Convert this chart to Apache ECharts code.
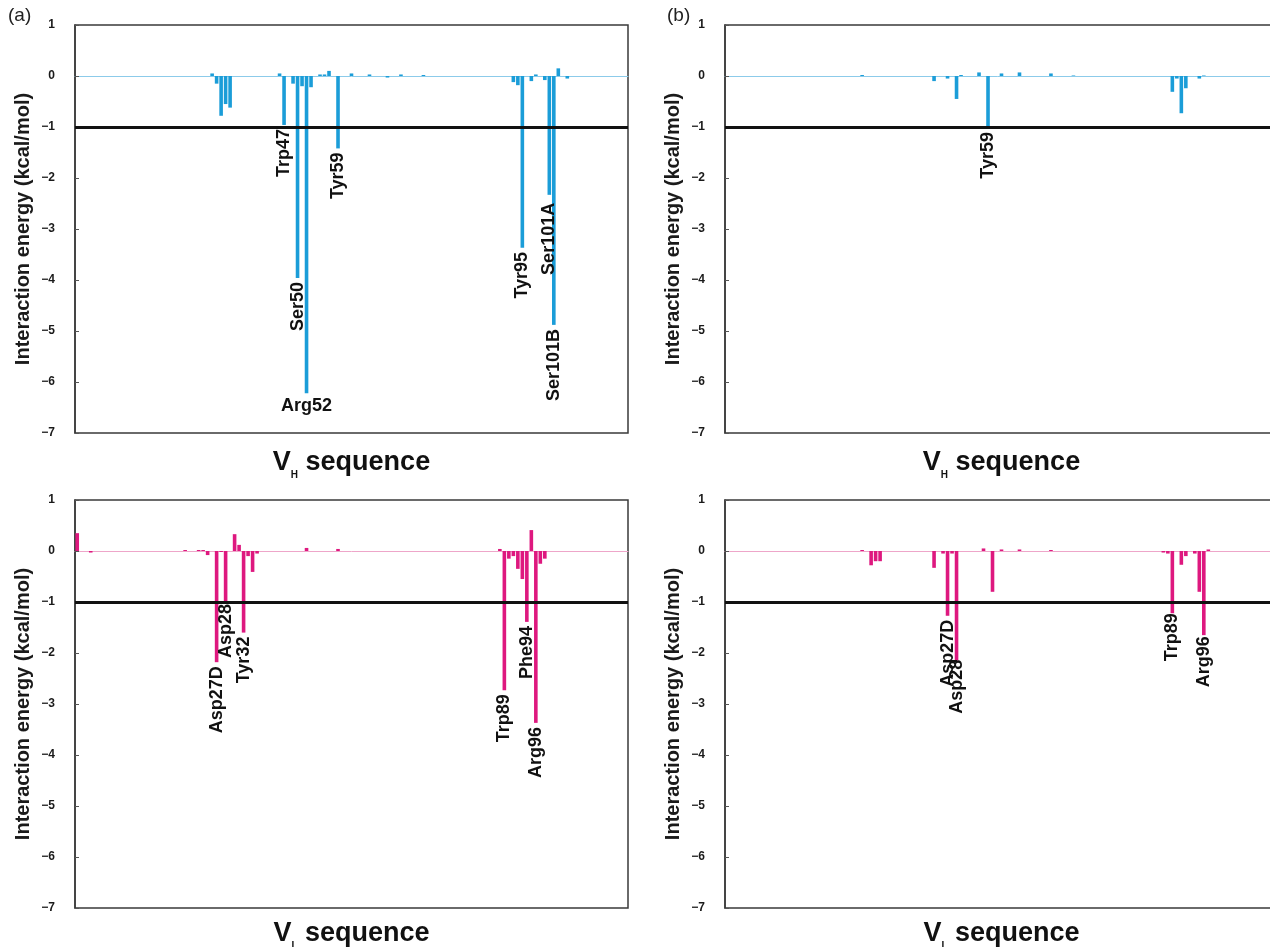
<!DOCTYPE html>
<html>
<head>
<meta charset="utf-8">
<title>Interaction energy per residue</title>
<script src="https://cdn.jsdelivr.net/npm/echarts@6/dist/echarts.min.js"></script>
<style>
    html, body { margin: 0; padding: 0; background: #fff; }
    #main { width: 1270px; height: 947px; }
</style>
</head>
<body>
<div id="main"></div>
<script>
    // residue slots along each sequence axis (no tick labels are drawn)
    var nRes = 123;

    // (a) VH
    var vhA_idx = [30, 31, 32, 33, 34, 45, 46, 48, 49, 50, 51, 52, 54, 55, 56, 58, 61, 65, 69, 72, 77, 97, 98, 99, 101, 102, 104, 105, 106, 107, 109];
    var vhA_val = [0.05, -0.15, -0.78, -0.55, -0.62, 0.05, -0.96, -0.15, -3.96, -0.2, -6.22, -0.22, 0.03, 0.03, 0.1, -1.42, 0.05, 0.03, -0.03, 0.03, 0.02, -0.12, -0.18, -3.37, -0.1, 0.03, -0.08, -2.33, -4.88, 0.15, -0.05];
    var vhA_labIdx = [46, 49, 51, 58, 99, 105, 106];
    var vhA_labText = ['Trp47', 'Ser50', 'Arg52', 'Tyr59', 'Tyr95', 'Ser101A', 'Ser101B'];

    // (b) VH
    var vhB_idx = [30, 46, 49, 51, 52, 56, 58, 61, 65, 72, 77, 99, 100, 101, 102, 105, 106];
    var vhB_val = [0.02, -0.1, -0.05, -0.45, 0.02, 0.07, -1.02, 0.05, 0.07, 0.05, 0.01, -0.31, -0.05, -0.73, -0.24, -0.05, 0.01];
    var vhB_labIdx = [58];
    var vhB_labText = ['Tyr59'];

    // (a) VL
    var vlA_idx = [0, 3, 24, 27, 28, 29, 31, 32, 33, 35, 36, 37, 38, 39, 40, 51, 58, 94, 95, 96, 97, 98, 99, 100, 101, 102, 103, 104];
    var vlA_val = [0.35, -0.03, 0.02, 0.02, 0.02, -0.08, -2.18, -0.02, -1.02, 0.33, 0.12, -1.6, -0.1, -0.41, -0.05, 0.06, 0.04, 0.04, -2.73, -0.15, -0.1, -0.35, -0.55, -1.39, 0.41, -3.37, -0.25, -0.15];
    var vlA_labIdx = [31, 33, 37, 95, 100, 102];
    var vlA_labText = ['Asp27D', 'Asp28', 'Tyr32', 'Trp89', 'Phe94', 'Arg96'];

    // (b) VL
    var vlB_idx = [30, 32, 33, 34, 46, 48, 49, 50, 51, 57, 59, 61, 65, 72, 97, 98, 99, 101, 102, 104, 105, 106, 107];
    var vlB_val = [0.02, -0.28, -0.2, -0.2, -0.33, -0.05, -1.27, -0.05, -2.15, 0.05, -0.8, 0.03, 0.03, 0.02, -0.03, -0.05, -1.22, -0.27, -0.1, -0.05, -0.8, -1.65, 0.03];
    var vlB_labIdx = [49, 51, 99, 106];
    var vlB_labText = ['Asp27D', 'Asp28', 'Trp89', 'Arg96'];

    var cutoff = -1;

    var FONT = "'Liberation Sans', Arial, Helvetica, sans-serif";
    var BLUE = '#1b9dd8', BLUE_LT = '#8ccbea';
    var PINK = '#de187f', PINK_LT = '#eea6c9';

    // small sideways shifts so neighbouring residue labels don't sit on each other
    var nudge = {'vlA:Asp28': 3, 'vlB:Asp28': 5, 'vlB:Trp89': 4, 'vlB:Arg96': 3, 'vhA:Ser101A': -4};

    var panels = [
        {key: 'vhA', left: 75, top: 25, idx: vhA_idx, val: vhA_val, labIdx: vhA_labIdx, labText: vhA_labText, color: BLUE, base: BLUE_LT, chain: 'H', titleGap: 12},
        {key: 'vhB', left: 725, top: 25, idx: vhB_idx, val: vhB_val, labIdx: vhB_labIdx, labText: vhB_labText, color: BLUE, base: BLUE_LT, chain: 'H', titleGap: 12},
        {key: 'vlA', left: 75, top: 500, idx: vlA_idx, val: vlA_val, labIdx: vlA_labIdx, labText: vlA_labText, color: PINK, base: PINK_LT, chain: 'L', titleGap: 8},
        {key: 'vlB', left: 725, top: 500, idx: vlB_idx, val: vlB_val, labIdx: vlB_labIdx, labText: vlB_labText, color: PINK, base: PINK_LT, chain: 'L', titleGap: 8}
    ];
    var gridW = 553, gridH = 408;

    var cats = [];
    for (var c = 0; c < nRes; c++) cats.push(String(c + 1));

    function barData(idx, val) {
        var d = [];
        for (var i = 0; i < nRes; i++) d.push(0);
        idx.forEach(function (k, j) { d[k] = val[j]; });
        return d;
    }

    function labelData(p) {
        return p.labIdx.map(function (k, j) {
            var v = p.val[p.idx.indexOf(k)];
            var name = p.labText[j];
            var flat = (name === 'Arg52');
            var dx = nudge[p.key + ':' + name] || 0;
            return {
                value: [k, v],
                name: name,
                label: flat ? {rotate: 0, align: 'center', verticalAlign: 'top', distance: 4, offset: [dx, 0]}
                            : {rotate: 90, align: 'right', verticalAlign: 'middle', distance: 4, offset: [dx, 0]}
            };
        });
    }

    var grids = [], xAxes = [], yAxes = [], series = [], graphics = [];

    panels.forEach(function (p, n) {
        grids.push({
            left: p.left, top: p.top, width: gridW, height: gridH,
            outerBoundsMode: 'none',
            show: true, borderColor: '#3a3a3a', borderWidth: 1.5, backgroundColor: 'transparent'
        });
        xAxes.push({
            type: 'category', gridIndex: n, data: cats,
            axisLine: {onZero: true, lineStyle: {color: p.base, width: 1}},
            axisTick: {show: false}, axisLabel: {show: false}, splitLine: {show: false}
        });
        yAxes.push({
            type: 'value', gridIndex: n, min: -7, max: 1, interval: 1,
            name: 'Interaction energy (kcal/mol)', nameLocation: 'middle', nameGap: 42,
            nameTextStyle: {fontFamily: FONT, fontWeight: 'bold', fontSize: 20, color: '#1a1a1a'},
            axisLine: {show: true, lineStyle: {color: '#3a3a3a', width: 1.5}},
            axisTick: {show: true, inside: true, length: 4, lineStyle: {color: '#555'}},
            axisLabel: {
                margin: 20, fontFamily: FONT, fontWeight: 'bold', fontSize: 12, color: '#1a1a1a',
                formatter: function (v) { return String(v).replace('-', '\u2212'); }
            },
            splitLine: {show: false}
        });
        series.push({
            type: 'bar', xAxisIndex: n, yAxisIndex: n,
            data: barData(p.idx, p.val),
            barWidth: 3.6,
            itemStyle: {color: p.color},
            markLine: {
                silent: true, symbol: ['none', 'none'],
                label: {show: false},
                lineStyle: {color: '#111', width: 3, type: 'solid'},
                data: [{yAxis: cutoff}]
            }
        });
        series.push({
            type: 'scatter', xAxisIndex: n, yAxisIndex: n,
            symbolSize: 0, silent: true,
            itemStyle: {opacity: 1},
            data: labelData(p),
            label: {
                show: true, position: 'bottom',
                formatter: '{b}',
                fontFamily: FONT, fontWeight: 'bold', fontSize: 18, color: '#111', opacity: 1
            },
            z: 5
        });
        graphics.push({
            type: 'text',
            x: p.left + gridW / 2, y: p.top + gridH + p.titleGap,
            style: {
                text: '{v|V}{s|' + p.chain + '}{t| sequence}',
                align: 'center',
                rich: {
                    v: {fontFamily: FONT, fontWeight: 'bold', fontSize: 27, lineHeight: 35, fill: '#111'},
                    s: {fontFamily: FONT, fontWeight: 'bold', fontSize: 10, lineHeight: 10, verticalAlign: 'bottom', fill: '#111'},
                    t: {fontFamily: FONT, fontWeight: 'bold', fontSize: 27, lineHeight: 35, fill: '#111'}
                }
            }
        });
    });

    graphics.push({type: 'text', x: 8, y: 6, style: {text: '(a)', fontFamily: FONT, fontSize: 19, fill: '#222'}});
    graphics.push({type: 'text', x: 667, y: 6, style: {text: '(b)', fontFamily: FONT, fontSize: 19, fill: '#222'}});

    var myChart = echarts.init(document.getElementById('main'));
    myChart.setOption({
        animation: false,
        backgroundColor: '#fff',
        grid: grids,
        xAxis: xAxes,
        yAxis: yAxes,
        series: series,
        graphic: graphics
    });
</script>
</body>
</html>
